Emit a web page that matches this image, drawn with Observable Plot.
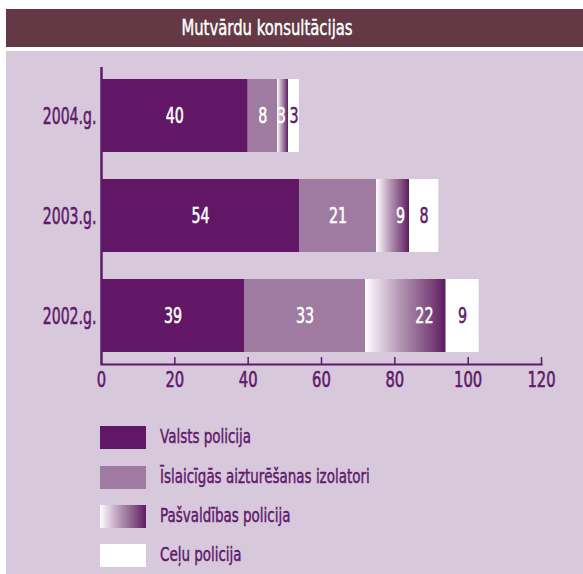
<!DOCTYPE html>
<html>
<head>
<meta charset="utf-8">
<script src="https://cdn.jsdelivr.net/npm/d3@7"></script>
<script src="https://cdn.jsdelivr.net/npm/@observablehq/plot@0.6"></script>
<style>
  html, body { margin: 0; padding: 0; background: #ffffff; }
  body { width: 583px; height: 574px; position: relative; overflow: hidden;
         font-family: "DejaVu Sans", sans-serif; }
  #title { position: absolute; left: 6px; top: 9px; width: 577px; height: 38px; background: #643845;
           color: #ffffff; font-size: 21.5px; line-height: 38px; }
  #title span { position: absolute; left: 0; width: 522px; text-align: center; transform: scaleX(0.69); transform-origin: 50% 50%;
                -webkit-text-stroke: 0.5px #ffffff; }
  #panel { position: absolute; left: 6px; top: 51px; width: 577px; height: 523px; background: #d8c8dc; }
  #chart { position: absolute; left: 6px; top: 51px; }
  .leg { position: absolute; left: 100px; height: 23px; }
  .leg .sw { position: absolute; left: 0; top: 0; width: 46px; height: 23px; }
  .leg .lab { position: absolute; left: 60px; top: -2px; white-space: nowrap; color: #5f1a6b; font-size: 19.5px; line-height: 26px;
              transform: scaleX(0.69); transform-origin: 0 50%; -webkit-text-stroke: 0.5px #5f1a6b; }
</style>
</head>
<body>
<div id="title"><span>Mutvārdu konsultācijas</span></div>
<div id="panel"></div>
<div id="chart"></div>
<div id="legend"></div>
<script>
const years = ["2004.g.", "2003.g.", "2002.g."];
const seriesNames = ["Valsts policija", "Īslaicīgās aizturēšanas izolatori", "Pašvaldības policija", "Ceļu policija"];
const valstsPolicija = [40, 54, 39];
const izolatori = [8, 21, 33];
const pasvaldibasPolicija = [3, 9, 22];
const celuPolicija = [3, 8, 9];
const xTicks = [0, 20, 40, 60, 80, 100, 120];

const seriesValues = [valstsPolicija, izolatori, pasvaldibasPolicija, celuPolicija];
const colors = ["#621766", "#9f7aa1", "url(#pgrad)", "#ffffff"];
const labelColors = ["#ffffff", "#ffffff", "#ffffff", "#5f1a6b"];
const purple = "#5f1a6b";

const rows = [];
years.forEach((y, i) => {
  let start = 0;
  seriesValues.forEach((vals, s) => {
    const v = vals[i];
    const frac = s === 2 ? (v >= 5 ? 0.73 : 0.35) : 0.5;
    rows.push({year: y, series: seriesNames[s], si: s, value: v, start, labelX: start + frac * v});
    start += v;
  });
});

const W = 577, H = 360, mt = 16, mb = 47, ml = 95, mr = 42;
const chart = Plot.plot({
  width: W, height: H,
  marginTop: mt, marginBottom: mb, marginLeft: ml, marginRight: mr,
  style: {background: "transparent", fontFamily: "'DejaVu Sans', sans-serif"},
  x: {domain: [0, 120]},
  y: {domain: years, paddingInner: 0.27, paddingOuter: 0.12},
  color: {domain: seriesNames, range: colors},
  marks: [
    Plot.barX(rows, {x1: "start", x2: d => d.start + d.value, y: "year", fill: "series"}),
    Plot.text(rows, {x: "labelX", y: "year", text: d => String(d.value),
      fill: d => labelColors[d.si], stroke: d => labelColors[d.si], strokeWidth: 0.6,
      fontSize: 21, textAnchor: "middle", className: "barlab"}),
    Plot.ruleX([0], {stroke: purple, strokeWidth: 2.5}),
    Plot.ruleX(xTicks.slice(1), {stroke: purple, strokeWidth: 1.5, insetTop: (H - mt - mb) - 7}),
    Plot.frame({anchor: "bottom", stroke: purple, strokeWidth: 2.2}),
    Plot.axisX({ticks: xTicks, tickSize: 0, tickPadding: 8, tickFormat: d => String(d),
      fill: purple, fontSize: 20.5, label: null, className: "xlab"}),
    Plot.axisY({tickSize: 0, tickPadding: 5, fill: purple, fontSize: 23.5, label: null, className: "ylab"})
  ]
});
document.getElementById("chart").appendChild(chart);

// gradient definition for the "Pašvaldības policija" series
const svg = d3.select(chart);
const defs = svg.insert("defs", ":first-child");
const grad = defs.append("linearGradient").attr("id", "pgrad").attr("x1", "0").attr("x2", "1").attr("y1", "0").attr("y2", "0");
[[0, "#ffffff"], [0.12, "#ecdfec"], [0.45, "#b293b2"], [0.8, "#7e4a7e"], [1, "#5e1c62"]].forEach(([o, c]) =>
  grad.append("stop").attr("offset", o).attr("stop-color", c));

// condense the text to mimic the reference's narrow typeface
function squeeze(selector, f, strokeColor) {
  chart.querySelectorAll(selector).forEach(t => {
    const len = t.getComputedTextLength();
    if (len > 0) {
      t.setAttribute("textLength", (len * f).toFixed(2));
      t.setAttribute("lengthAdjust", "spacingAndGlyphs");
    }
    if (strokeColor) { t.setAttribute("stroke", strokeColor); t.setAttribute("stroke-width", "0.6"); }
  });
}
squeeze(".barlab text", 0.68);
squeeze(".xlab text", 0.72, purple);
squeeze(".ylab text", 0.6, purple);

// legend
const legend = document.getElementById("legend");
const legTops = [426, 466, 505, 544];
seriesNames.forEach((name, i) => {
  const row = document.createElement("div");
  row.className = "leg";
  row.style.top = legTops[i] + "px";
  const sw = document.createElement("div");
  sw.className = "sw";
  sw.style.background = i === 2
    ? "linear-gradient(to right, #ffffff 0%, #ecdfec 12%, #b293b2 45%, #7e4a7e 80%, #5e1c62 100%)"
    : colors[i];
  const lab = document.createElement("div");
  lab.className = "lab";
  lab.textContent = name;
  row.appendChild(sw);
  row.appendChild(lab);
  legend.appendChild(row);
});
</script>
</body>
</html>
